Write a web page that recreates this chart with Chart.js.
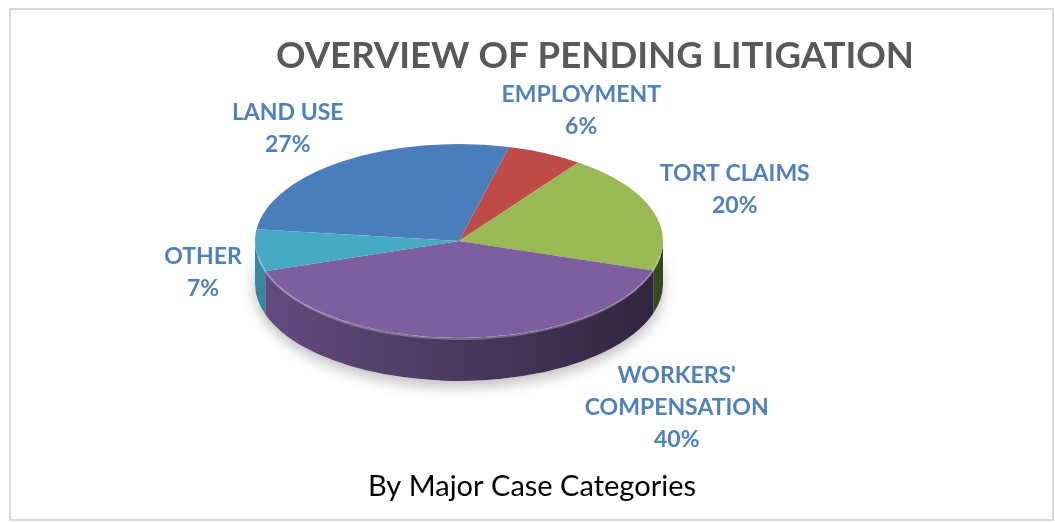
<!DOCTYPE html>
<html>
<head>
<meta charset="utf-8">
<script src="https://cdn.jsdelivr.net/npm/chart.js@4.4.1/dist/chart.umd.min.js"></script>
<style>
  body { margin: 0; background: #fff; }
  #wrap { width: 1055px; height: 523px; }
</style>
</head>
<body>
<div id="wrap"><canvas id="pie" width="1055" height="523"></canvas></div>
<script>
// Chart data
const categories = ['LAND USE', 'EMPLOYMENT', 'TORT CLAIMS', "WORKERS' COMPENSATION", 'OTHER'];
const shares = [27, 6, 20, 40, 7];
const labelLines = [['LAND USE'], ['EMPLOYMENT'], ['TORT CLAIMS'], ["WORKERS'", 'COMPENSATION'], ['OTHER']];
const sliceColors = ['#4a7ebb', '#be4b48', '#98b954', '#7d5fa0', '#46aac5'];

const titleText = 'OVERVIEW OF PENDING LITIGATION';
const subtitleText = 'By Major Case Categories';

// 3D look: squash factor, screen centre and wall depth
const tilt = 0.475;
const screenCy = 241;
const depth = 43;

function shade(hex, f) {
  const n = parseInt(hex.slice(1), 16);
  const r = Math.round(((n >> 16) & 255) * f);
  const g = Math.round(((n >> 8) & 255) * f);
  const b = Math.round((n & 255) * f);
  return `rgb(${r},${g},${b})`;
}

const pie3d = {
  id: 'pie3d',
  beforeDraw(chart) {
    const ctx = chart.ctx;
    ctx.save();
    ctx.strokeStyle = '#d9d9d9';
    ctx.lineWidth = 2;
    ctx.strokeRect(10, 9, 1043, 511);
    ctx.restore();
  },
  beforeDatasetsDraw(chart) {
    const ctx = chart.ctx;
    const arcs = chart.getDatasetMeta(0).data;
    const cx = arcs[0].x;
    const rx = arcs[0].outerRadius;
    const ry = rx * tilt;

    // soft shadow under the disc
    ctx.save();
    ctx.shadowColor = 'rgba(0,0,0,0.25)';
    ctx.shadowBlur = 14;
    ctx.shadowOffsetY = 6;
    ctx.fillStyle = '#fff';
    ctx.beginPath();
    ctx.ellipse(cx, screenCy, rx, ry, 0, 0, Math.PI);
    ctx.ellipse(cx, screenCy + depth, rx, ry, 0, Math.PI, 0, true);
    ctx.closePath();
    ctx.fill();
    ctx.restore();

    // side walls, front half only
    arcs.forEach((arc, i) => {
      const s = arc.startAngle, e = arc.endAngle;
      const grad = ctx.createLinearGradient(cx - rx, 0, cx + rx, 0);
      grad.addColorStop(0, shade(sliceColors[i], 0.8));
      grad.addColorStop(1, shade(sliceColors[i], 0.38));
      for (let k = -1; k <= 2; k++) {
        const lo = 2 * Math.PI * k, hi = lo + Math.PI;
        const a0 = Math.max(s, lo), a1 = Math.min(e, hi);
        if (a1 <= a0) continue;
        ctx.beginPath();
        ctx.ellipse(cx, screenCy, rx, ry, 0, a0, a1);
        ctx.ellipse(cx, screenCy + depth, rx, ry, 0, a1, a0, true);
        ctx.closePath();
        ctx.fillStyle = grad;
        ctx.fill();
      }
    });

    // squash the top face into an ellipse
    const cy = arcs[0].y;
    ctx.save();
    ctx.translate(cx, screenCy);
    ctx.scale(1, tilt);
    ctx.translate(-cx, -cy);
  },
  afterDatasetsDraw(chart) {
    const ctx = chart.ctx;
    ctx.restore();
    const arcs = chart.getDatasetMeta(0).data;
    const cx = arcs[0].x;
    const rx = arcs[0].outerRadius;
    const ry = rx * tilt;

    // bevel highlight on front rim
    ctx.save();
    ctx.strokeStyle = 'rgba(255,255,255,0.28)';
    ctx.lineWidth = 2;
    ctx.beginPath();
    ctx.ellipse(cx, screenCy + 1, rx - 1, ry, 0, 0.15, Math.PI - 0.15);
    ctx.stroke();
    ctx.restore();
  },
  afterDraw(chart) {
    const ctx = chart.ctx;
    const opts = chart.options.plugins.pie3d;
    const arcs = chart.getDatasetMeta(0).data;
    const cx = arcs[0].x;
    const rx = arcs[0].outerRadius;
    const ry = rx * tilt;

    ctx.save();
    ctx.textAlign = 'center';
    ctx.textBaseline = 'middle';

    // title and subtitle
    ctx.fillStyle = '#595959';
    ctx.font = 'bold 36.6px Lato';
    ctx.fillText(titleText, 595, 56);
    ctx.fillStyle = '#000';
    ctx.font = '29px Lato';
    ctx.fillText(subtitleText, 532, 487);

    // data labels
    ctx.fillStyle = '#4F81BD';
    ctx.font = 'bold 23px Lato';
    arcs.forEach((arc, i) => {
      const m = (arc.startAngle + arc.endAngle) / 2;
      const ax = cx + rx * Math.cos(m) + opts.offsets[i][0];
      const ay = screenCy + ry * Math.sin(m) + opts.offsets[i][1];
      const lines = labelLines[i].concat([shares[i] + '%']);
      const top = ay - (lines.length - 1) * opts.lineGap / 2;
      lines.forEach((t, j) => ctx.fillText(t, ax, top + j * opts.lineGap));
    });
    ctx.restore();
  }
};

new Chart(document.getElementById('pie'), {
  type: 'pie',
  data: {
    labels: categories,
    datasets: [{
      data: shares,
      backgroundColor: sliceColors,
      borderWidth: 0
    }]
  },
  options: {
    responsive: false,
    animation: false,
    rotation: 277,
    layout: { padding: { left: 255, right: 392, top: 57, bottom: 58 } },
    plugins: {
      legend: { display: false },
      tooltip: { enabled: false },
      pie3d: {
        lineGap: 32,
        offsets: [[-56, -32], [36, -43], [82, -21], [217, 70], [-53, 22]]
      }
    }
  },
  plugins: [pie3d]
});
</script>
</body>
</html>
